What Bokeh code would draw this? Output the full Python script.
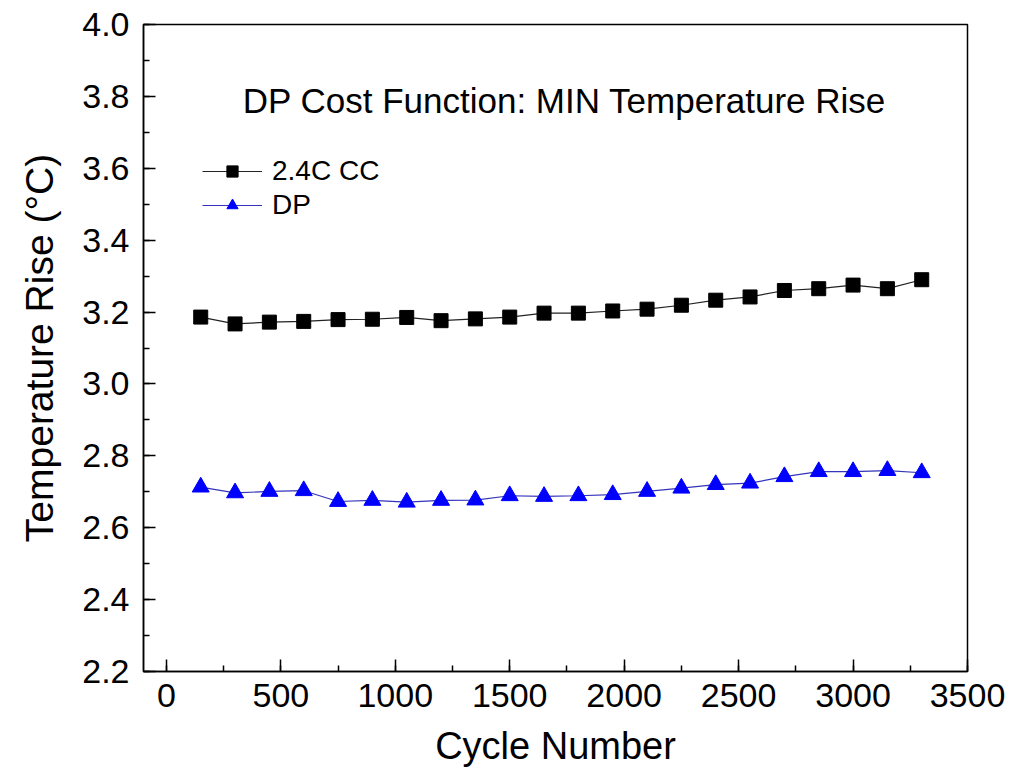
from bokeh.plotting import figure
from bokeh.models import (Range1d, SingleIntervalTicker, PrintfTickFormatter,
                          Legend, LegendItem, Label, ColumnDataSource)
from bokeh.embed import file_html
from bokeh.resources import INLINE

cycles = [150, 300, 450, 600, 750, 900, 1050, 1200, 1350, 1500, 1650,
          1800, 1950, 2100, 2250, 2400, 2550, 2700, 2850, 3000, 3150, 3300]
cc_rise = [3.186, 3.167, 3.172, 3.174, 3.179, 3.180, 3.185, 3.176, 3.181, 3.186, 3.197,
           3.197, 3.203, 3.208, 3.219, 3.233, 3.242, 3.260, 3.265, 3.275, 3.265, 3.290]
dp_rise = [2.713, 2.697, 2.701, 2.703, 2.673, 2.676, 2.671, 2.676, 2.677, 2.689, 2.687,
           2.689, 2.692, 2.701, 2.710, 2.720, 2.724, 2.742, 2.756, 2.756, 2.759, 2.753]
series_names = ["2.4C CC", "DP"]
title_text = "DP Cost Function: MIN Temperature Rise"
x_label = "Cycle Number"
y_label = "Temperature Rise (\u00b0C)"

FONT = "Liberation Sans"

p = figure(frame_width=824, frame_height=647,
           min_border_left=143, min_border_right=58, min_border_top=24, min_border_bottom=106,
           x_range=Range1d(-100, 3500), y_range=Range1d(2.2, 4.0),
           output_backend="svg", toolbar_location=None)
p.xgrid.visible = False
p.ygrid.visible = False
p.outline_line_color = "black"
p.outline_line_width = 1.5
p.background_fill_color = "white"
p.border_fill_color = "white"

p.xaxis.ticker = SingleIntervalTicker(interval=500, num_minor_ticks=2)
p.yaxis.ticker = SingleIntervalTicker(interval=0.2, num_minor_ticks=2)
p.yaxis.formatter = PrintfTickFormatter(format="%.1f")
for ax in (p.xaxis[0], p.yaxis[0]):
    ax.major_tick_in = 12
    ax.major_tick_out = 0
    ax.minor_tick_in = 6
    ax.minor_tick_out = 0
    ax.axis_line_width = 1.5
    ax.major_tick_line_width = 1.5
    ax.minor_tick_line_width = 1.5
    ax.major_label_text_font = FONT
    ax.major_label_text_font_size = "34px"
    ax.major_label_text_color = "black"
    ax.axis_label_text_font = FONT
    ax.axis_label_text_font_style = "normal"
    ax.axis_label_text_color = "black"
p.xaxis.axis_label_text_font_size = "38px"
p.yaxis.axis_label_text_font_size = "39px"
p.xaxis.axis_label = x_label
p.yaxis.axis_label = y_label
p.xaxis.major_label_standoff = 12
p.yaxis.major_label_standoff = 14
p.xaxis.axis_label_standoff = 15
p.yaxis.axis_label_standoff = 18

src = ColumnDataSource(dict(x=cycles, cc=cc_rise, dp=dp_rise))
l1 = p.line("x", "cc", source=src, line_color="#222222", line_width=1.2)
m1 = p.scatter("x", "cc", source=src, marker="square", size=14,
               fill_color="black", line_color="black")
l2 = p.line("x", "dp", source=src, line_color="#3333bb", line_width=1.2)
m2 = p.scatter("x", "dp", source=src, marker="triangle", size=17,
               fill_color="#0000ff", line_color="#0000ff")

legend = Legend(items=[LegendItem(label=series_names[0], renderers=[l1, m1]),
                       LegendItem(label=series_names[1], renderers=[l2, m2])],
                location=(59, 450), glyph_width=60, glyph_height=28, label_height=28,
                spacing=2, padding=0, margin=0, label_standoff=10,
                label_text_font=FONT, label_text_font_size="28px",
                label_text_color="black",
                border_line_alpha=0, background_fill_alpha=0)
p.add_layout(legend)

title = Label(x=1740, y=3.789, text=title_text, text_align="center",
              text_baseline="middle", text_font=FONT, text_font_size="35px",
              text_color="black")
p.add_layout(title)

open("out.html", "w").write(file_html(p, INLINE))
